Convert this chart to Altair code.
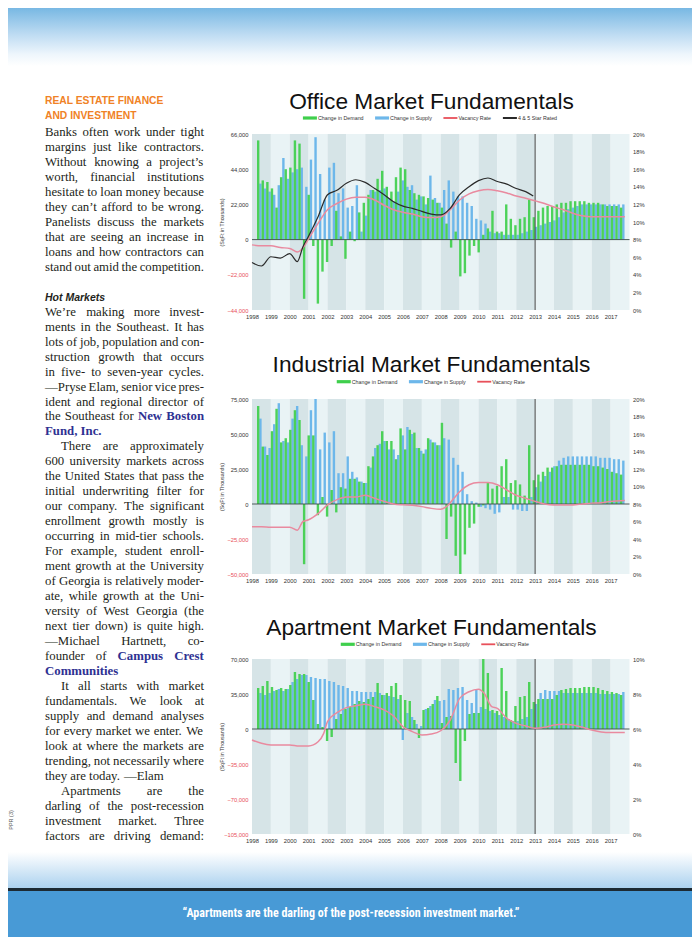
import altair as alt
import pandas as pd

# ------------------------------------------------------------------ data
YEARS = list(range(1998, 2018))

# quarterly values, thousands of sq ft (1998Q1 .. 2017Q4)
office_demand = [
    62, 37, 36, 32,  20, 39, 44, 45,  62, 60, -37, 28,  -4, -40, -20, -14,
    -4, 18, 2, -12,  5, -1, 17, 23,  28, 31, 38, 43,  33, 30, 39, 45,
    44, 31, 29, 28,  27, 26, 25, 23,  20, 10, -5, 5,  -23, -21, -10, -4,
    -8, 3, 7, 18,  5, 5, 22, 13,  9, 13, 14, 25,  14, 18, 20, 21,
    21, 22, 23, 23,  24, 24, 24, 24,  23, 23, 23, 22,  21, 21, 21, 20]
office_supply = [
    35, 32, 30, 28,  34, 51, 38, 42,  44, 45, 33, 50,  64, 41, 25, 45,
    48, 29, 32, 20,  21, 34, 5, 15,  31, 30, 31, 32,  26, 24, 30, 37,
    33, 34, 25, 27,  22, 40, 26, 23,  31, 37, 30, 27,  27, 23, 21, 13,
    12, 10, 5, 4,  4, 3, 3, 3,  3, 4, 5, 6,  8, 9, 10, 11,
    12, 14, 17, 19,  20, 21, 22, 22,  22, 22, 22, 22,  22, 22, 22, 22]
office_vac_t = [1998.0, 1998.5, 1999.0, 1999.5, 2000.0, 2000.4, 2000.75, 2001.0, 2001.5,
                2002.0, 2002.5, 2003.0, 2003.5, 2004.0, 2004.5, 2005.0, 2005.5, 2006.0,
                2006.5, 2007.0, 2007.5, 2008.0, 2008.5, 2009.0, 2009.5, 2010.0, 2010.5,
                2011.0, 2011.5, 2012.0, 2012.5, 2013.0, 2013.5, 2014.0, 2014.5, 2015.0,
                2015.5, 2016.0, 2016.5, 2017.0, 2017.75]
office_vac = [7.4, 7.3, 7.3, 7.1, 7.0, 6.6, 7.2, 8.1, 9.85, 11.4, 12.1, 12.6, 12.8, 12.8,
              12.5, 11.9, 11.4, 11.1, 10.9, 10.6, 10.5, 10.6, 11.4, 12.5, 13.2, 13.55,
              13.7, 13.55, 13.3, 12.95, 12.7, 12.4, 12.1, 11.7, 11.4, 11.0, 10.7, 10.6,
              10.6, 10.6, 10.6]
office_star_t = [1998.0, 1998.5, 1999.0, 1999.5, 2000.0, 2000.4, 2000.7, 2001.0, 2001.5,
                 2002.0, 2002.5, 2003.0, 2003.5, 2004.0, 2004.5, 2005.0, 2005.5, 2006.0,
                 2006.5, 2007.0, 2007.5, 2008.0, 2008.5, 2009.0, 2009.5, 2010.0, 2010.5,
                 2011.0, 2011.5, 2012.0, 2012.5, 2012.9]
office_star = [5.4, 5.0, 6.05, 5.9, 6.4, 5.5, 7.2, 8.4, 10.6, 13.1, 13.6, 14.4, 14.8, 14.5,
               13.8, 13.1, 12.3, 11.8, 11.55, 11.2, 10.9, 10.8, 11.55, 13.1, 14.0, 14.7,
               15.0, 14.6, 14.3, 13.8, 13.45, 12.95]

ind_demand = [
    70, 41, 35, 52,  68, 44, 47, 53,  67, 60, -43, 49,  49, -8, 5, -9,
    10, -6, 12, 11,  18, 18, 16, 15,  27, 34, 42, 52,  45, 45, 32, 54,
    39, 53, 51, 40,  36, 47, 44, 42,  58, -25, -9, -37,  -50, -36, -17, -14,
    -2, -1, 15, 11,  13, 27, 32, 15,  17, 14, 6, 42,  17, 21, 23, 26,
    26, 27, 28, 28,  28, 28, 28, 28,  28, 27, 27, 26,  25, 23, 22, 21]
ind_supply = [
    61, 41, 40, 57,  72, 45, 44, 61,  70, 42, 34, 67,  75, 39, 51, 44,
    52, 22, 22, 34,  23, 19, 16, 15,  26, 40, 43, 45,  39, 39, 35, 49,
    55, 50, 40, 38,  39, 46, 44, 42,  47, 46, 33, 28,  23, 7, 2, 1,
    -2, -3, -4, -7,  -6, 5, 5, -4,  -4, -5, -5, 5,  12, 16, 20, 23,
    27, 31, 33, 34,  34, 34, 34, 34,  34, 34, 33, 33,  33, 32, 32, 31]
ind_vac_t = [1998.0, 1998.5, 1999.0, 1999.5, 2000.0, 2000.4, 2000.7, 2001.0, 2001.5,
             2002.0, 2002.5, 2003.0, 2003.5, 2004.0, 2004.5, 2005.0, 2005.5, 2006.0,
             2006.5, 2007.0, 2007.5, 2008.0, 2008.3, 2008.7, 2009.0, 2009.5, 2010.0,
             2010.5, 2011.0, 2011.5, 2012.0, 2012.5, 2013.0, 2013.5, 2014.0, 2014.5,
             2015.0, 2015.5, 2016.0, 2016.5, 2017.0, 2017.75]
ind_vac = [5.4, 5.4, 5.35, 5.35, 5.35, 5.0, 6.0, 6.2, 6.9, 7.9, 8.5, 8.8, 8.8, 9.0, 8.65,
           8.3, 8.0, 7.9, 7.85, 7.7, 7.5, 7.4, 7.7, 8.65, 9.4, 10.2, 10.45, 10.45, 10.2,
           9.6, 9.0, 8.65, 8.3, 8.0, 7.9, 7.9, 7.9, 8.0, 8.1, 8.15, 8.3, 8.4]

apt_demand = [
    41, 43, 48, 42,  39, 41, 40, 44,  57, 55, 55, 47,  29, 5, 2, -12,
    -8, 10, 15, 20,  22, 25, 28, 27,  30, 32, 46, 34,  36, 43, 46, 34,
    29, 28, 9, -9,  19, 21, 25, 33,  6, 12, 13, -34,  -52, -12, 15, 16,
    16, 70, 56, 19,  18, 61, 38, 9,  23, 32, 33, 47,  27, 30, 30, 30,
    30, 34, 39, 40,  41, 41, 41, 42,  42, 42, 41, 39,  38, 37, 36, 34]
apt_supply = [
    36, 34, 36, 38,  40, 38, 40, 47,  50, 54, 54, 52,  51, 50, 50, 48,
    47, 44, 43, 41,  38, 38, 37, 37,  37, 37, 36, 34,  33, 32, 30, -11,
    16, 12, 5, 3,  20, 23, 29, 28,  29, 40, 39, 41,  42, 29, 26, 39,
    22, 20, 18, 16,  14, 12, 10, 8,  8, 10, 12, 20,  25, 36, 39, 38,
    38, 38, 36, 36,  36, 36, 36, 36,  36, 36, 35, 35,  35, 35, 35, 37]
apt_vac_t = [1998.0, 1998.5, 1999.0, 1999.5, 2000.0, 2000.5, 2001.0, 2001.5, 2001.8,
             2002.0, 2002.5, 2003.0, 2003.5, 2004.0, 2004.5, 2005.0, 2005.5, 2006.0,
             2006.5, 2007.0, 2007.5, 2008.0, 2008.5, 2009.0, 2009.5, 2010.0, 2010.3,
             2010.7, 2011.0, 2011.5, 2012.0, 2012.5, 2013.0, 2013.5, 2014.0, 2014.5,
             2015.0, 2015.5, 2016.0, 2016.5, 2017.0, 2017.75]
apt_vac = [5.37, 5.18, 5.09, 5.09, 5.09, 5.03, 5.03, 5.27, 5.75, 6.42, 6.93, 7.22, 7.33,
           7.41, 7.28, 7.09, 6.74, 6.13, 5.85, 5.66, 5.71, 5.9, 6.51, 7.75, 8.13, 8.27,
           8.04, 7.28, 7.18, 6.61, 6.32, 6.17, 6.04, 6.1, 6.23, 6.27, 6.23, 6.1, 5.94,
           5.83, 5.8, 5.8]

office_left_ticks = [-44000, -22000, 0, 22000, 44000, 66000]
ind_left_ticks = [-50000, -25000, 0, 25000, 50000, 75000]
apt_left_ticks = [-105000, -70000, -35000, 0, 35000, 70000]
pct20_ticks = [0, 2, 4, 6, 8, 10, 12, 14, 16, 18, 20]
pct10_ticks = [0, 2, 4, 6, 8, 10]

TITLES = ["Office Market Fundamentals", "Industrial Market Fundamentals",
          "Apartment Market Fundamentals"]
LEG_DEMAND, LEG_SUPPLY, LEG_VAC, LEG_STAR = ("Change in Demand", "Change in Supply",
                                             "Vacancy Rate", "4 & 5 Star Rated")
Y_TITLE = "(SqFt in Thousands)"

HEAD_LINES = ["REAL ESTATE FINANCE", "AND INVESTMENT"]
PARA1 = ["Banks often work under tight",
         "margins just like contractors.",
         "Without knowing a project’s",
         "worth, financial institutions",
         "hesitate to loan money because",
         "they can’t afford to be wrong.",
         "Panelists discuss the markets",
         "that are seeing an increase in",
         "loans and how contractors can",
         "stand out amid the competition."]
SUBHEAD = "Hot Markets"
PARA2 = ["We’re making more invest-",
         "ments in the Southeast. It has",
         "lots of job, population and con-",
         "struction growth that occurs",
         "in five- to seven-year cycles.",
         "—Pryse Elam, senior vice pres-",
         "ident and regional director of",
         "the Southeast for *New Boston*",
         "*Fund, Inc.*",
         "There are approximately",
         "600 university markets across",
         "the United States that pass the",
         "initial underwriting filter for",
         "our company. The significant",
         "enrollment growth mostly is",
         "occurring in mid-tier schools.",
         "For example, student enroll-",
         "ment growth at the University",
         "of Georgia is relatively moder-",
         "ate, while growth at the Uni-",
         "versity of West Georgia (the",
         "next tier down) is quite high.",
         "—Michael Hartnett, co-",
         "founder of *Campus Crest*",
         "*Communities*",
         "It all starts with market",
         "fundamentals. We look at",
         "supply and demand analyses",
         "for every market we enter. We",
         "look at where the markets are",
         "trending, not necessarily where",
         "they are today. —Elam",
         "Apartments are the",
         "darling of the post-recession",
         "investment market. Three",
         "factors are driving demand:"]
INDENTED = {"There are approximately", "It all starts with market", "Apartments are the"}
RAGGED = {"*Fund, Inc.*", "*Communities*", "they are today. —Elam"}
FOLIO = "PPR (3)"
QUOTE = "“Apartments are the darling of the post-recession investment market.”"

# ------------------------------------------------------------------ layout / style
M = 8                      # page margin of the html page
W, H = 700 - 2 * M, 937 - M


def px(v):                 # page coordinate -> chart coordinate
    return v - M


XR = [px(252), px(629.5)]
SANS = "Liberation Sans"
SERIF = "Liberation Serif"
GREEN, BLUE, PINK, BLACK = "#3fcf4c", "#6db7ea", "#e98a9f", "#2b2b2b"
BAND_DARK, BAND_LIGHT = "#d6e4e7", "#e9f3f5"
TEXT = "#231f20"
NAVY = "#2e3192"
DX = 1.15 / 18.875         # half gap between demand and supply bars, in years
BW = 2.4

TR_LOWER = [444, 500, 444, 500, 444, 333, 500, 500, 278, 278, 500, 278, 778, 500, 500, 500,
            500, 333, 389, 278, 500, 500, 722, 500, 500, 444]
TR_UPPER = [722, 667, 667, 722, 611, 556, 722, 722, 333, 389, 722, 611, 889, 722, 722, 556,
            722, 667, 556, 611, 722, 722, 944, 722, 722, 611]
TB_LOWER = [500, 556, 444, 556, 444, 333, 500, 556, 278, 333, 556, 278, 833, 556, 500, 556,
            556, 444, 389, 333, 556, 500, 722, 500, 500, 444]
TB_UPPER = [722, 667, 722, 722, 667, 611, 778, 778, 389, 500, 778, 667, 944, 722, 778, 611,
            778, 722, 556, 667, 722, 722, 1000, 722, 722, 667]
PUNCT = {",": 250, ".": 250, "-": 333, "’": 333, "—": 1000, "(": 333, ")": 333, ":": 278}
ARIAL = {" ": 278, "&": 667, "4": 556, "5": 556, "C": 722, "D": 722, "R": 722, "S": 667,
         "V": 667, "a": 556, "c": 500, "d": 556, "e": 556, "g": 556, "h": 556, "i": 222,
         "l": 222, "m": 833, "n": 556, "p": 556, "r": 333, "t": 278, "u": 556, "y": 500}


def serif_w(word, bold, size):
    tot = 0
    for ch in word:
        if "a" <= ch <= "z":
            tot += (TB_LOWER if bold else TR_LOWER)[ord(ch) - 97]
        elif "A" <= ch <= "Z":
            tot += (TB_UPPER if bold else TR_UPPER)[ord(ch) - 65]
        elif ch.isdigit():
            tot += 500
        else:
            tot += PUNCT.get(ch, 333)
    return tot * size / 1000


def sans_w(s, size):
    return sum(ARIAL.get(ch, 556) for ch in s) * size / 1000


one = pd.DataFrame({"k": [0]})
layers = []

# ---------------------------------------------------------------- page decorations
layers.append(
    alt.Chart(one).mark_rect(fill=alt.LinearGradient(
        gradient="linear", x1=0, x2=0, y1=0, y2=1,
        stops=[alt.GradientStop(color="#78b8e3", offset=0),
               alt.GradientStop(color="#bddbf2", offset=0.45),
               alt.GradientStop(color="#eef6fc", offset=0.8),
               alt.GradientStop(color="#ffffff", offset=1)])
    ).encode(x=alt.value(0), x2=alt.value(W), y=alt.value(0), y2=alt.value(px(66))))
layers.append(
    alt.Chart(one).mark_rect(fill=alt.LinearGradient(
        gradient="linear", x1=0, x2=0, y1=0, y2=1,
        stops=[alt.GradientStop(color="#ffffff", offset=0),
               alt.GradientStop(color="#acd2ef", offset=1)])
    ).encode(x=alt.value(0), x2=alt.value(W), y=alt.value(px(852)), y2=alt.value(px(888))))
layers.append(alt.Chart(one).mark_rect(color="#1c2a33").encode(
    x=alt.value(0), x2=alt.value(W), y=alt.value(px(888)), y2=alt.value(px(891))))
layers.append(alt.Chart(one).mark_rect(color="#489ad6").encode(
    x=alt.value(0), x2=alt.value(W), y=alt.value(px(891)), y2=alt.value(H)))
layers.append(alt.Chart(pd.DataFrame({"t": [QUOTE]})).mark_text(
    font="Liberation Sans Narrow, Roboto Condensed, Liberation Sans", fontSize=12,
    fontWeight="bold", color="white", align="center", baseline="alphabetic"
).encode(text="t:N", x=alt.value(px(351)), y=alt.value(px(917))))


# ---------------------------------------------------------------- panels
def panel(D, S, lines, ydom, lticks, rdom, rticks, top, bottom, title, title_y,
          legend, legend_cx, legend_y):
    out = []
    xs = alt.Scale(domain=[1998, 2018], range=XR, nice=False, zero=False)
    yl = alt.Scale(domain=ydom, range=[bottom, top], nice=False, zero=False)
    yr = alt.Scale(domain=rdom, range=[bottom, top], nice=False, zero=False)
    lab = dict(labelFont=SANS, labelFontSize=5.8, labelColor="#333333", ticks=False,
               domain=False, grid=False, labelOverlap=False, labelFlush=False)
    xaxis = alt.Axis(orient="bottom", offset=bottom - H, values=YEARS, format="d",
                     labelPadding=3, title=None, **lab)
    lab_l = dict(lab)
    lab_l["labelColor"] = {"expr": "datum.value < 0 ? '#e8505a' : '#333333'"}
    laxis = alt.Axis(orient="left", offset=-XR[0], values=lticks, format=",d",
                     labelPadding=4, title=Y_TITLE, titleFont=SANS, titleFontSize=5.3,
                     titleFontWeight="normal", titleColor="#333333", titleAngle=270,
                     titleAlign="center", titleBaseline="middle",
                     titleX=px(221.7) - XR[0], titleY=(top + bottom) / 2, **lab_l)
    raxis = alt.Axis(orient="right", offset=XR[1] - W, values=rticks,
                     labelExpr="datum.value + '%'", labelPadding=3, title=None, **lab)

    bdf = pd.DataFrame({"a": YEARS, "b": [y + 1 for y in YEARS],
                        "lo": ydom[0], "hi": ydom[1],
                        "shade": [BAND_DARK if i % 2 == 0 else BAND_LIGHT
                                  for i in range(len(YEARS))]})
    out.append(alt.Chart(bdf).mark_rect().encode(
        x=alt.X("a:Q", scale=xs, axis=xaxis), x2="b:Q",
        y=alt.Y("lo:Q", scale=yl, axis=None), y2="hi:Q",
        fill=alt.Fill("shade:N", scale=None)))

    qdf = pd.DataFrame({"t": [1998 + k / 4 + 0.125 for k in range(len(D))],
                        "d": [v * 1000 for v in D], "s": [v * 1000 for v in S]})
    qdf["td"] = qdf["t"] - DX
    qdf["ts"] = qdf["t"] + DX
    qdf["z"] = 0
    out.append(alt.Chart(qdf).mark_bar(size=BW, orient="vertical", color=BLUE).encode(
        x=alt.X("ts:Q", scale=xs, axis=None),
        y=alt.Y("s:Q", scale=yl, axis=laxis), y2="z:Q"))
    out.append(alt.Chart(qdf).mark_bar(size=BW, orient="vertical", color=GREEN,
                                       opacity=0.92).encode(
        x=alt.X("td:Q", scale=xs, axis=None),
        y=alt.Y("d:Q", scale=yl, axis=None), y2="z:Q"))

    zdf = pd.DataFrame({"a": [1998], "b": [2018], "z": [0]})
    out.append(alt.Chart(zdf).mark_rule(color="#3d4b48", strokeWidth=0.9).encode(
        x=alt.X("a:Q", scale=xs, axis=None), x2="b:Q",
        y=alt.Y("z:Q", scale=yl, axis=None)))
    vdf = pd.DataFrame({"x": [2013], "lo": [ydom[0]], "hi": [ydom[1]]})
    out.append(alt.Chart(vdf).mark_rule(color="#555555", strokeWidth=1.1).encode(
        x=alt.X("x:Q", scale=xs, axis=None),
        y=alt.Y("lo:Q", scale=yl, axis=None), y2="hi:Q"))

    for i, (t, v, col, sw) in enumerate(lines):
        ldf = pd.DataFrame({"t": t, "v": v})
        out.append(alt.Chart(ldf).mark_line(interpolate="monotone", color=col,
                                            strokeWidth=sw).encode(
            x=alt.X("t:Q", scale=xs, axis=None),
            y=alt.Y("v:Q", scale=yr, axis=raxis if i == 0 else None)))

    out.append(alt.Chart(pd.DataFrame({"t": [title]})).mark_text(
        font=SANS, fontSize=22.7, color="#111111", align="center", baseline="alphabetic"
    ).encode(text="t:N", x=alt.value(px(431.5)), y=alt.value(title_y)))

    # legend
    fs = 5.3
    widths = [sans_w(lbl, fs) for lbl, _, _ in legend]
    total = sum(14 + 1 + w for w in widths) + 11.5 * (len(legend) - 1)
    x = legend_cx - total / 2
    rows = []
    for (lbl, col, h), w in zip(legend, widths):
        rows.append({"x0": x, "x1": x + 14, "y0": legend_y - h / 2, "y1": legend_y + h / 2,
                     "tx": x + 15, "ty": legend_y, "lbl": lbl, "col": col})
        x += 14 + 1 + w + 11.5
    ldf = pd.DataFrame(rows)
    out.append(alt.Chart(ldf).mark_rect().encode(
        x=alt.X("x0:Q", scale=None, axis=None), x2="x1:Q",
        y=alt.Y("y0:Q", scale=None, axis=None), y2="y1:Q",
        color=alt.Color("col:N", scale=None)))
    out.append(alt.Chart(ldf).mark_text(font=SANS, fontSize=fs, color="#333333",
                                        align="left", baseline="middle").encode(
        x=alt.X("tx:Q", scale=None, axis=None), y=alt.Y("ty:Q", scale=None, axis=None),
        text="lbl:N"))
    return out


leg3 = [(LEG_DEMAND, GREEN, 3.2), (LEG_SUPPLY, BLUE, 3.2), (LEG_VAC, "#e8505a", 1.8)]
layers += panel(office_demand, office_supply,
                [(office_vac_t, office_vac, PINK, 1.5), (office_star_t, office_star, BLACK, 1.2)],
                [-44000, 66000], office_left_ticks, [0, 20], pct20_ticks,
                px(134), px(310), TITLES[0], px(108.5),
                leg3 + [(LEG_STAR, "#111111", 1.8)], px(430), px(118))
layers += panel(ind_demand, ind_supply, [(ind_vac_t, ind_vac, PINK, 1.5)],
                [-50000, 75000], ind_left_ticks, [0, 20], pct20_ticks,
                px(399), px(574), TITLES[1], px(371.7), leg3, px(431), px(381.7))
layers += panel(apt_demand, apt_supply, [(apt_vac_t, apt_vac, PINK, 1.5)],
                [-105000, 70000], apt_left_ticks, [0, 10], pct10_ticks,
                px(659), px(834), TITLES[2], px(635), leg3, px(435), px(644.3))

# ---------------------------------------------------------------- text column
BODY = 12.8
XL, XRT = px(45), px(204)


def set_lines(lines, y0, dy):
    reg, bold = [], []
    for i, line in enumerate(lines):
        y = y0 + i * dy
        toks = line.split(" ")
        words, inb = [], False
        for tk in toks:
            b = inb or tk.startswith("*")
            if tk.startswith("*"):
                inb = True
            if tk.endswith("*"):
                inb = False
            words.append((tk.strip("*"), b))
        x0 = XL + (16 if line in INDENTED else 0)
        ws = [serif_w(w, b, BODY) for w, b in words]
        if line in RAGGED or len(words) == 1:
            gap = 250 * BODY / 1000
        else:
            gap = (XRT - x0 - sum(ws)) / (len(words) - 1)
        x = x0
        for (w, b), wd in zip(words, ws):
            (bold if b else reg).append({"w": w, "x": x, "y": y})
            x += wd + gap
    return reg, bold


r1, b1 = set_lines(PARA1, px(135.7), 15.0)
r2, b2 = set_lines(PARA2, px(315.7), 14.97)
reg = pd.DataFrame(r1 + r2)
bld = pd.DataFrame(b1 + b2)
layers.append(alt.Chart(reg).mark_text(font=SERIF, fontSize=BODY, color=TEXT, align="left",
                                       baseline="alphabetic").encode(
    x=alt.X("x:Q", scale=None, axis=None), y=alt.Y("y:Q", scale=None, axis=None), text="w:N"))
layers.append(alt.Chart(bld).mark_text(font=SERIF, fontSize=BODY, fontWeight="bold",
                                       color=NAVY, align="left", baseline="alphabetic").encode(
    x=alt.X("x:Q", scale=None, axis=None), y=alt.Y("y:Q", scale=None, axis=None), text="w:N"))

hd = pd.DataFrame({"t": HEAD_LINES, "y": [px(104.3), px(119.3)]})
layers.append(alt.Chart(hd).mark_text(font=SANS, fontSize=10.3, fontWeight="bold",
                                      color="#f08226", align="left",
                                      baseline="alphabetic").encode(
    x=alt.value(XL), y=alt.Y("y:Q", scale=None, axis=None), text="t:N"))
layers.append(alt.Chart(pd.DataFrame({"t": [SUBHEAD]})).mark_text(
    font=SANS, fontSize=10.5, fontWeight="bold", fontStyle="italic", color=TEXT,
    align="left", baseline="alphabetic").encode(
    text="t:N", x=alt.value(XL), y=alt.value(px(301))))
layers.append(alt.Chart(pd.DataFrame({"t": [FOLIO]})).mark_text(
    font=SANS, fontSize=5.5, color="#555555", angle=270, align="center",
    baseline="middle").encode(text="t:N", x=alt.value(3), y=alt.value(px(820))))

chart = alt.layer(*layers).resolve_scale(x="independent", y="independent").properties(
    width=W, height=H, padding=0, background="white",
    autosize=alt.AutoSizeParams(type="none")
).configure_view(stroke=None)

chart.save("out.html", embed_options={"renderer": "svg", "actions": False})
